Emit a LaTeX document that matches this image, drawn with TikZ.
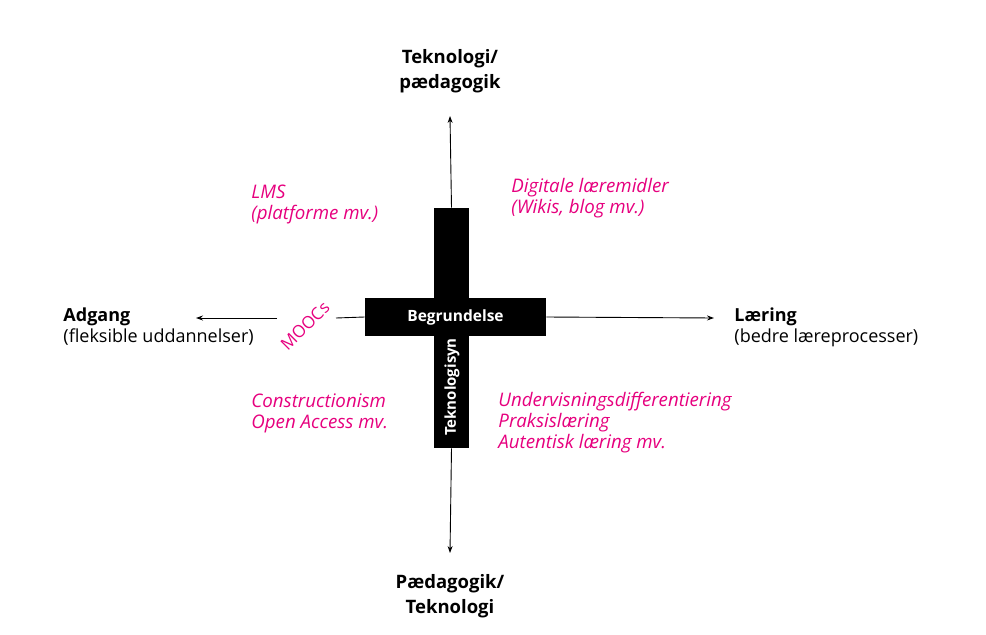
\documentclass[tikz,border=0pt]{standalone}
\usepackage{fontspec}
\setmainfont{Open Sans}
\usetikzlibrary{positioning,arrows.meta}
\definecolor{pink}{RGB}{230,0,126}

\begin{document}
\begin{tikzpicture}[x=1pt,y=-1pt,>={Stealth[length=7pt,width=5pt]},line width=0.9pt,
    bar/.style={fill=black,inner sep=0pt},
    akse/.style={font=\fontsize{18.5}{25}\selectfont\bfseries,align=center,inner sep=0pt},
    sub/.style={font=\fontsize{18}{21}\selectfont,align=left,inner sep=0pt},
    felt/.style={font=\fontsize{18.7}{21}\selectfont\itshape,text=pink,align=left,inner sep=0pt}]

    \useasboundingbox (0,0) rectangle (986,635);

    %Korset
    \node[bar, minimum width=35, minimum height=240] (stamme) at (451.5,328) {};
    \node[bar, minimum width=181, minimum height=38, text=white,
          font=\fontsize{15.5}{16}\selectfont\bfseries] (begrundelse) at (455.5,317) {Begrundelse};
    \node[rotate=90, text=white, inner sep=0pt,
          font=\fontsize{15}{16}\selectfont\bfseries] (teknologisyn) at (452,387) {Teknologisyn};

    %Akser
    \coordinate (top) at (450,116);
    \coordinate (bund) at (450,553);
    \coordinate (hojre) at (714,318);
    \coordinate (venstre) at (196,318);
    \coordinate (hulA) at (336,318);
    \coordinate (hulB) at (277,318);

    \draw[->] (stamme.north) -- (top);
    \draw[->] (stamme.south) -- (bund);
    \draw[->] (begrundelse.east) -- (hojre);
    \draw (begrundelse.west) -- (hulA);
    \draw[->] (hulB) -- (venstre);

    %Tekster ved akserne
    \node[akse] (tekped) at (450,71) {Teknologi/\\pædagogik};
    \node[akse] (pedtek) at (450,596) {Pædagogik/\\Teknologi};
    \node[sub, anchor=west] (adgang) at (63,327) {\textbf{Adgang}\\(fleksible uddannelser)};
    \node[sub, anchor=west] (laering) at (734,327) {\textbf{Læring}\\(bedre læreprocesser)};

    %Felter
    \node[felt, anchor=west] (lms) at (251,204) {LMS\\(platforme mv.)};
    \node[felt, anchor=west] (digitale) at (511,198) {Digitale læremidler\\(Wikis, blog mv.)};
    \node[felt, anchor=west] (construct) at (251,413) {Constructionism\\Open Access mv.};
    \node[felt, anchor=west] (underv) at (498,423) {Undervisningsdifferentiering\\Praksislæring\\Autentisk læring mv.};
    \node[felt, font=\fontsize{17}{21}\selectfont, rotate=45] (moocs) at (305,326) {MOOCs};

\end{tikzpicture}
\end{document}
